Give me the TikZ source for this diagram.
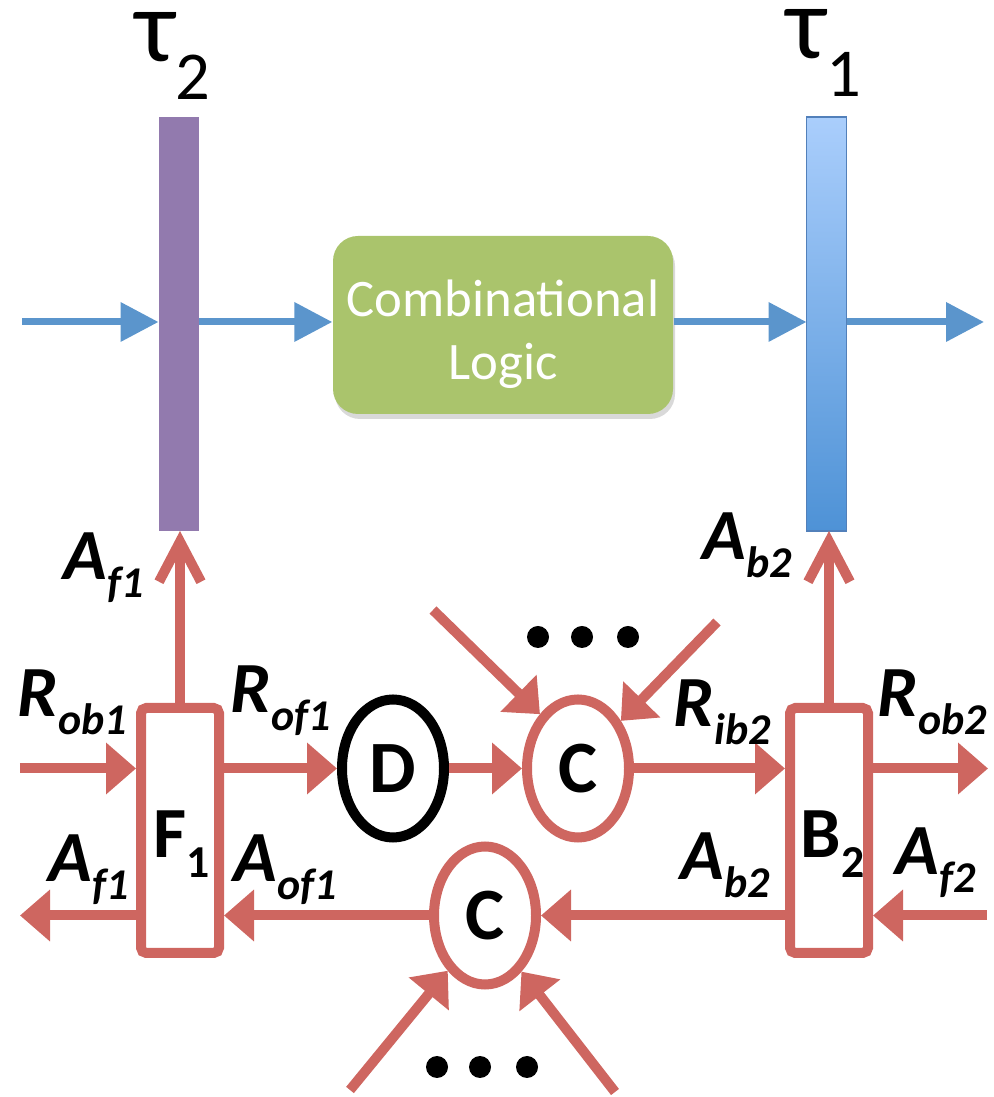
\documentclass[tikz,border=0pt]{standalone}
\usepackage{fontspec}
\setmainfont{Carlito}
\usepackage{tikz}
\usetikzlibrary{arrows.meta,shapes.geometric,shadows}
\definecolor{dpurple}{RGB}{146,122,174}
\definecolor{dblue}{RGB}{91,149,204}
\definecolor{lblue}{RGB}{170,206,252}
\definecolor{mblue}{RGB}{78,146,214}
\definecolor{bblue}{RGB}{82,128,186}
\definecolor{dgreen}{RGB}{170,196,108}
\definecolor{dred}{RGB}{206,102,96}
\tikzset{
  latch/.style={inner sep=0pt,outer sep=0pt,minimum width=0.40cm,minimum height=4.14cm},
  logicbox/.style={fill=dgreen,rounded corners=0.25cm,minimum width=3.40cm,minimum height=1.78cm,inner sep=0pt,
    drop shadow={opacity=0.3,shadow xshift=0.02cm,shadow yshift=-0.05cm}},
  logictext/.style={text=white,align=center,inner sep=0pt,font=\fontsize{15}{18}\selectfont},
  blk/.style={draw=dred,line width=0.1cm,rounded corners=1.5pt,minimum width=0.78cm,minimum height=2.45cm,inner sep=0pt},
  celem/.style={ellipse,draw=dred,line width=0.1cm,minimum width=1.02cm,minimum height=1.38cm,inner sep=0pt,
    font=\fontsize{21}{21}\selectfont\bfseries},
  flow/.style={-{Triangle[length=3.8mm,width=3.8mm]},dblue,line width=0.07cm},
  req/.style={-{Triangle[length=3mm,width=5mm]},dred,line width=0.1cm},
  ack/.style={-{Straight Barb[length=4mm,width=4.2mm]},dred,line width=0.1cm,line cap=round},
  sig/.style={inner sep=0pt,anchor=base west},
  tau/.style={inner sep=0pt,anchor=base west,text height=0.5cm,font=\fontsize{29.5}{29.5}\selectfont}
}
\newcommand{\sg}[2]{{\fontsize{20.5}{20.5}\selectfont\bfseries\itshape #1\raisebox{-0.18cm}{\fontsize{12.5}{12.5}\selectfont #2}}}
\newcommand{\bx}[2]{{\fontsize{20.5}{20.5}\selectfont\bfseries #1\raisebox{-0.2cm}{\fontsize{13}{13}\selectfont #2}}}

\begin{document}
\begin{tikzpicture}
  \useasboundingbox (0,0) rectangle (9.94,10.97);
  \node[latch,fill=dpurple] (bar2) at (1.785,7.73) {};
  \node[latch,draw=bblue,line width=0.5pt,top color=lblue,bottom color=mblue] (bar1) at (8.265,7.73) {};
  \node[tau] (t2) at (1.35,10.35) {τ\raisebox{-0.38cm}{\fontsize{19.5}{19.5}\selectfont 2}};
  \node[tau] (t1) at (7.86,10.38) {τ\raisebox{-0.38cm}{\fontsize{19.5}{19.5}\selectfont 1}};
  \node[logicbox] (logic) at (5.03,7.72) {};
  \node[logictext] (ltext) at ([yshift=-0.09cm]logic.center) {Combinational\\Logic};
  \coordinate (fin) at (0.22,7.75);
  \coordinate (fout) at (9.84,7.75);
  \draw[flow] (fin) -- (fin -| bar2.west);
  \draw[flow] (fin -| bar2.east) -- (fin -| logic.west);
  \draw[flow] (fin -| logic.east) -- (fin -| bar1.west);
  \draw[flow] (fin -| bar1.east) -- (fout);

  \node[blk] (F) at (1.80,2.665) {};
  \node[blk] (B) at (8.29,2.665) {};
  \node[celem,draw=black] (D) at (3.93,3.285) {D};
  \node[celem] (Ct) at (5.78,3.285) {C};
  \node[celem] (Cb) at (4.85,1.815) {C};
  \node[sig] (lF) at (1.53,2.39) {\bx{F}{1}};
  \node[sig] (lB) at (8.00,2.39) {\bx{B}{2}};

  \coordinate (rob1) at (0.20,3.285);
  \coordinate (rob2) at (9.88,3.285);
  \coordinate (af1) at (0.20,1.815);
  \coordinate (af2) at (9.87,1.815);
  \coordinate (ct1) at (4.33,4.87);
  \coordinate (ct2) at (7.17,4.75);
  \coordinate (cb1) at (3.50,0.07);
  \coordinate (cb2) at (6.15,0.05);
  \draw[ack] (F.north) -- (F.north |- bar2.south);
  \draw[ack] (B.north) -- (B.north |- bar1.south);
  \draw[req] (rob1) -- (rob1 -| F.west);
  \draw[req] (D.west -| F.east) -- (D.west);
  \draw[req] (D.east) -- (Ct.west);
  \draw[req] (Ct.east) -- (Ct.east -| B.west);
  \draw[req] (rob2 -| B.east) -- (rob2);
  \draw[req] (af1 -| F.west) -- (af1);
  \draw[req] (Cb.west) -- (Cb.west -| F.east);
  \draw[req] (Cb.east -| B.west) -- (Cb.east);
  \draw[req] (af2) -- (af2 -| B.east);
  \draw[req] (ct1) -- (Ct.125);
  \draw[req] (ct2) -- (Ct.48);
  \draw[req] (cb1) -- (Cb.236);
  \draw[req] (cb2) -- (Cb.303);
  \fill (5.38,4.60) circle (0.11);
  \fill (5.82,4.60) circle (0.11);
  \fill (6.28,4.60) circle (0.11);
  \fill (4.37,0.30) circle (0.11);
  \fill (4.80,0.30) circle (0.11);
  \fill (5.27,0.30) circle (0.11);

  \node[sig] (lAf1) at (0.63,5.17) {\sg{A}{f1}};
  \node[sig] (lRob1) at (0.17,3.80) {\sg{R}{ob1}};
  \node[sig] (lRof1) at (2.30,3.84) {\sg{R}{of1}};
  \node[sig] (lAf1b) at (0.48,2.15) {\sg{A}{f1}};
  \node[sig] (lAof1) at (2.33,2.15) {\sg{A}{of1}};
  \node[sig] (lAb2) at (7.02,5.37) {\sg{A}{b2}};
  \node[sig] (lRib2) at (6.73,3.70) {\sg{R}{ib2}};
  \node[sig] (lRob2) at (8.77,3.80) {\sg{R}{ob2}};
  \node[sig] (lAb2b) at (6.80,2.17) {\sg{A}{b2}};
  \node[sig] (lAf2) at (8.95,2.22) {\sg{A}{f2}};
\end{tikzpicture}
\end{document}
